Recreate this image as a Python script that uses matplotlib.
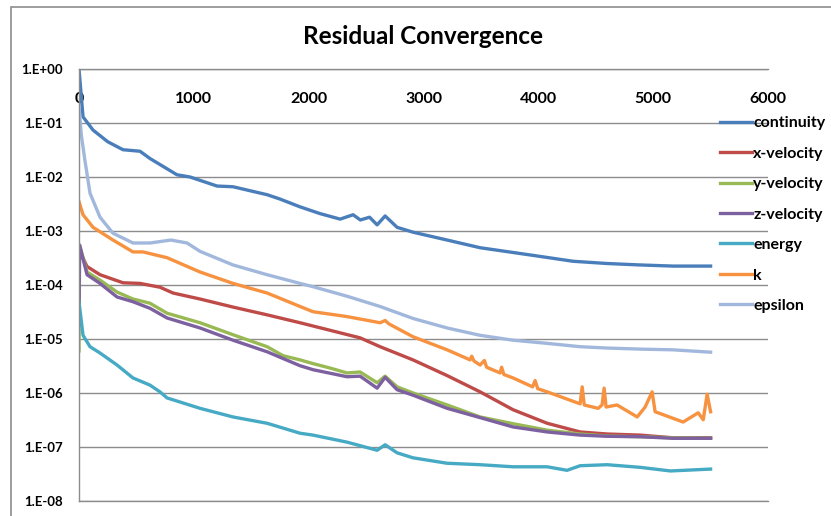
import matplotlib
matplotlib.use('Agg')
import matplotlib.pyplot as plt
import matplotlib.patches as mpatches
from matplotlib.ticker import FixedLocator, FuncFormatter, NullLocator
import numpy as np

plt.rcParams['font.family'] = ['Lato', 'DejaVu Sans']

# Residual histories read per iteration
it_cont = [0, 35, 122, 250, 383, 531, 618, 853, 967, 1202, 1341, 1638, 1751, 1925,
           2099, 2274, 2387, 2450, 2530, 2596, 2666, 2770, 2909, 3206, 3493, 3929,
           4303, 4599, 4887, 5174, 5500]
res_cont = [1.0, 1.3e-1, 7.4e-2, 4.5e-2, 3.2e-2, 3.0e-2, 2.2e-2, 1.1e-2, 1.0e-2, 6.8e-3,
            6.6e-3, 4.7e-3, 3.9e-3, 2.8e-3, 2.1e-3, 1.66e-3, 2.0e-3, 1.6e-3, 1.8e-3,
            1.3e-3, 1.9e-3, 1.17e-3, 9.5e-4, 6.8e-4, 4.9e-4, 3.6e-4, 2.75e-4, 2.5e-4,
            2.35e-4, 2.24e-4, 2.24e-4]

it_xvel = [0, 10, 70, 183, 383, 531, 705, 819, 1054, 1341, 1638, 1925, 2038, 2448,
           2622, 2909, 3206, 3493, 3780, 4077, 4364, 4599, 4887, 5174, 5500]
res_xvel = [5.0e-4, 4.0e-4, 2.2e-4, 1.55e-4, 1.1e-4, 1.07e-4, 9.1e-5, 7.1e-5, 5.5e-5,
            3.9e-5, 2.8e-5, 2.0e-5, 1.74e-5, 1.05e-5, 7.2e-6, 4.1e-6, 2.1e-6, 1.05e-6,
            4.9e-7, 2.75e-7, 1.9e-7, 1.74e-7, 1.66e-7, 1.48e-7, 1.48e-7]

it_yvel = [0, 5, 70, 183, 331, 470, 618, 767, 1054, 1341, 1638, 1777, 1925, 2038,
           2186, 2334, 2448, 2596, 2666, 2770, 2909, 3206, 3493, 3780, 4077, 4364,
           4599, 4887, 5174, 5500]
res_yvel = [6.0e-6, 5.5e-4, 1.74e-4, 1.23e-4, 7.4e-5, 5.5e-5, 4.6e-5, 3.0e-5, 2.0e-5,
            1.2e-5, 7.2e-6, 4.9e-6, 4.1e-6, 3.5e-6, 2.9e-6, 2.35e-6, 2.45e-6, 1.55e-6,
            2.05e-6, 1.3e-6, 1.0e-6, 6.0e-7, 3.6e-7, 2.7e-7, 2.05e-7, 1.74e-7, 1.6e-7,
            1.55e-7, 1.48e-7, 1.45e-7]

it_zvel = [0, 5, 70, 183, 331, 470, 618, 767, 1054, 1341, 1638, 1925, 2038, 2334,
           2448, 2596, 2666, 2770, 2909, 3206, 3493, 3780, 4077, 4364, 4599, 4887,
           5174, 5500]
res_zvel = [1.8e-5, 5.5e-4, 1.55e-4, 1.07e-4, 6.0e-5, 4.9e-5, 3.7e-5, 2.45e-5, 1.6e-5,
            9.5e-6, 5.8e-6, 3.2e-6, 2.7e-6, 2.0e-6, 2.05e-6, 1.23e-6, 1.95e-6, 1.15e-6,
            9.1e-7, 5.2e-7, 3.5e-7, 2.35e-7, 1.9e-7, 1.66e-7, 1.58e-7, 1.55e-7,
            1.45e-7, 1.45e-7]

it_energy = [0, 35, 96, 183, 331, 470, 618, 705, 767, 1054, 1341, 1638, 1925, 2038,
             2334, 2596, 2666, 2770, 2909, 3206, 3493, 3780, 4077, 4250, 4364, 4599,
             4887, 5150, 5500]
res_energy = [4.9e-5, 1.17e-5, 7.2e-6, 5.5e-6, 3.3e-6, 1.9e-6, 1.4e-6, 1.05e-6, 8.1e-7,
              5.2e-7, 3.6e-7, 2.75e-7, 1.8e-7, 1.66e-7, 1.23e-7, 8.7e-8, 1.1e-7, 7.8e-8,
              6.3e-8, 5.0e-8, 4.7e-8, 4.3e-8, 4.3e-8, 3.7e-8, 4.5e-8, 4.7e-8, 4.2e-8,
              3.6e-8, 3.9e-8]

it_k = [0, 35, 122, 296, 470, 557, 767, 1054, 1341, 1638, 1925, 2038, 2334, 2622,
        2666, 2700, 2909, 3206, 3406, 3420, 3440, 3493, 3530, 3550, 3667, 3680, 3700,
        3780, 3950, 3972, 3995, 4077, 4364, 4382, 4400, 4521, 4555, 4573, 4590, 4686,
        4861, 4930, 4991, 5017, 5261, 5392, 5436, 5470, 5500]
res_k = [3.5e-3, 2.0e-3, 1.17e-3, 6.8e-4, 4.1e-4, 4.1e-4, 3.2e-4, 1.74e-4, 1.07e-4,
         7.1e-5, 4.0e-5, 3.2e-5, 2.6e-5, 2.0e-5, 2.2e-5, 1.9e-5, 1.1e-5, 6.3e-6, 4.1e-6,
         4.8e-6, 3.9e-6, 3.3e-6, 4.0e-6, 3.0e-6, 2.35e-6, 3.0e-6, 2.2e-6, 1.9e-6,
         1.3e-6, 1.7e-6, 1.2e-6, 1.05e-6, 6.3e-7, 1.3e-6, 6.0e-7, 5.2e-7, 6.0e-7,
         1.23e-6, 5.5e-7, 6.0e-7, 3.6e-7, 5.5e-7, 1.05e-6, 4.5e-7, 2.9e-7, 4.3e-7,
         3.2e-7, 9.5e-7, 4.5e-7]

it_eps = [0, 20, 52, 96, 183, 296, 470, 620, 800, 941, 1054, 1341, 1638, 1925, 2038,
          2334, 2622, 2909, 3206, 3493, 3780, 4077, 4364, 4599, 4887, 5174, 5500]
res_eps = [2.0e-1, 6.0e-2, 2.0e-2, 5.0e-3, 1.8e-3, 9.1e-4, 6.0e-4, 6.0e-4, 6.8e-4,
           6.0e-4, 4.2e-4, 2.35e-4, 1.55e-4, 1.07e-4, 9.3e-5, 6.2e-5, 4.0e-5, 2.4e-5,
           1.6e-5, 1.17e-5, 9.5e-6, 8.3e-6, 7.2e-6, 6.8e-6, 6.5e-6, 6.3e-6, 5.7e-6]

series = [
    ('continuity', it_cont, res_cont, '#4A7EBB'),
    ('x-velocity', it_xvel, res_xvel, '#BE4B48'),
    ('y-velocity', it_yvel, res_yvel, '#98B954'),
    ('z-velocity', it_zvel, res_zvel, '#7D60A0'),
    ('energy', it_energy, res_energy, '#46AAC5'),
    ('k', it_k, res_k, '#F69240'),
    ('epsilon', it_eps, res_eps, '#A1B8DC'),
]

W, H = 831, 516
fig = plt.figure(figsize=(W / 100, H / 100), dpi=100)

# outer chart frame
frame = mpatches.Rectangle((11 / W, -0.1), 1.0, 1 - 6.5 / H + 0.1, fill=False,
                           ec='#8C8C8C', lw=1.2, transform=fig.transFigure)
fig.add_artist(frame)

ax = fig.add_axes([79 / W, 15 / H, 689 / W, 432 / H])
ax.set_yscale('log')
ax.set_ylim(1e-8, 1)
ax.set_xlim(0, 6000)

handles = []
for name, xs, ys, col in series:
    ln, = ax.plot(xs, ys, color=col, lw=2.4, solid_joinstyle='round', label=name)
    handles.append(ln)

# horizontal gridlines at each decade
ax.yaxis.set_major_locator(FixedLocator([10.0 ** e for e in range(-8, 1)]))
ax.yaxis.set_minor_locator(NullLocator())
ax.yaxis.set_major_formatter(
    FuncFormatter(lambda v, p: '1.E%+03d' % int(round(np.log10(v)))))
ax.grid(axis='y', color='#8C8C8C', lw=1.0)
ax.set_axisbelow(True)
ax.tick_params(axis='y', length=0, pad=11.5, labelsize=9.5)
for t in ax.get_yticklabels():
    t.set_fontweight('bold')

# iteration axis runs along the top, labels sit just under it
ax.xaxis.tick_top()
ax.set_xticks([0, 1000, 2000, 3000, 4000, 5000, 6000])
ax.tick_params(axis='x', length=0, pad=-27, labelsize=11.5)
for t in ax.get_xticklabels():
    t.set_fontweight('bold')

for s in ['right']:
    ax.spines[s].set_visible(False)
for s in ['left', 'top', 'bottom']:
    ax.spines[s].set_color('#8C8C8C')
    ax.spines[s].set_linewidth(1.0)

fig.text(423 / W, 1 - 36 / H, 'Residual Convergence', ha='center', va='center',
         fontsize=17.5, fontweight='bold')

leg = fig.legend(handles=handles, loc='upper left',
                 bbox_to_anchor=(720 / W, 1 - 116 / H), frameon=False,
                 borderpad=0, borderaxespad=0, handlelength=2.0,
                 handletextpad=0.08, labelspacing=1.02,
                 prop={'size': 11.5, 'weight': 'bold'})
for ln in leg.get_lines():
    ln.set_linewidth(2.4)

fig.savefig('out.png', dpi=100)
